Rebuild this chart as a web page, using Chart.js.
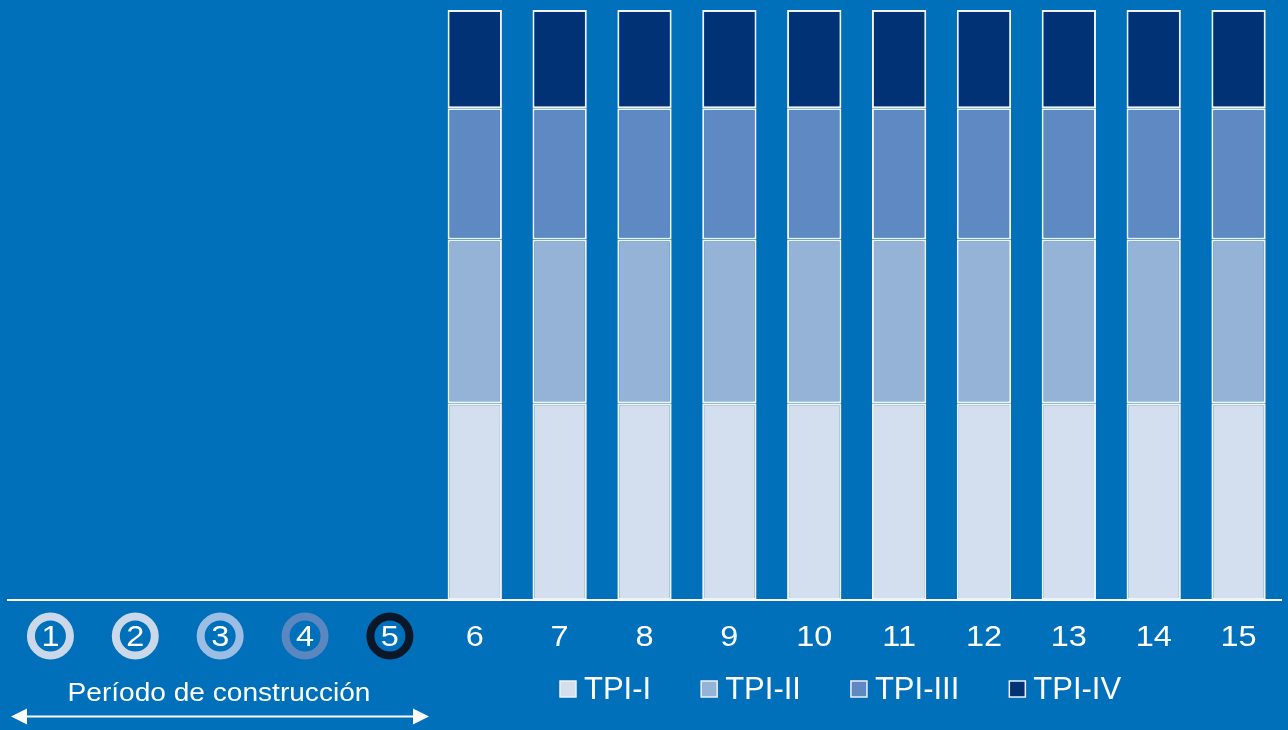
<!DOCTYPE html>
<html>
<head>
<meta charset="utf-8">
<script src="https://cdn.jsdelivr.net/npm/chart.js@4/dist/chart.umd.min.js"></script>
<style>
  html, body { margin: 0; padding: 0; background: #0070BA; }
  #wrap { width: 1288px; height: 730px; position: relative; }
</style>
</head>
<body>
<div id="wrap"><canvas id="chart" width="1288" height="730"></canvas></div>
<script>
// Years 1-5 are the construction period (no bars), 6-15 carry the tariff split
const categories = ['1','2','3','4','5','6','7','8','9','10','11','12','13','14','15'];
const tpiI   = [null, null, null, null, null, 30, 30, 30, 30, 30, 30, 30, 30, 30, 30];
const tpiII  = [null, null, null, null, null, 25, 25, 25, 25, 25, 25, 25, 25, 25, 25];
const tpiIII = [null, null, null, null, null, 20, 20, 20, 20, 20, 20, 20, 20, 20, 20];
const tpiIV  = [null, null, null, null, null, 15, 15, 15, 15, 15, 15, 15, 15, 15, 15];
const seriesNames = ['TPI-I', 'TPI-II', 'TPI-III', 'TPI-IV'];
const seriesColors = ['#D3DFEE', '#95B3D7', '#5E89C2', '#003275'];
// ring colour around the construction-year labels
const ringColors = ['#CAD8EA', '#CAD8EA', '#9DBEE4', '#5B87C0', '#0A1728'];
const buildLabel = 'Período de construcción';

const FONT = '"Liberation Sans", Arial, sans-serif';

// text drawn a little wider than the font's natural width
function wideText(ctx, text, x, y, sx) {
  ctx.save();
  ctx.translate(x, y);
  ctx.scale(sx, 1);
  ctx.fillText(text, 0, 0);
  ctx.restore();
}

// ── Year labels, rings round years 1-5, legend, construction arrow ───────────
const decorations = {
  id: 'decorations',
  afterDraw(chart) {
    const ctx = chart.ctx;
    const x = chart.scales.x;
    ctx.save();

    // rings
    ringColors.forEach((c, i) => {
      const cx = x.getPixelForValue(i);
      ctx.beginPath();
      ctx.arc(cx, 636, 19.5, 0, Math.PI * 2);
      ctx.lineWidth = 8;
      ctx.strokeStyle = c;
      ctx.stroke();
    });

    // year labels
    ctx.fillStyle = '#FFFFFF';
    ctx.font = '29px ' + FONT;
    ctx.textAlign = 'center';
    ctx.textBaseline = 'middle';
    categories.forEach((lab, i) => {
      wideText(ctx, lab, x.getPixelForValue(i), 638, 1.12);
    });

    // construction-period caption and double arrow
    ctx.font = '26px ' + FONT;
    wideText(ctx, buildLabel, 219, 694, 1.08);

    const ay = 716.5, x0 = 11, x1 = 429;
    ctx.strokeStyle = '#FFFFFF';
    ctx.lineWidth = 2;
    ctx.beginPath();
    ctx.moveTo(x0 + 10, ay);
    ctx.lineTo(x1 - 10, ay);
    ctx.stroke();
    ctx.beginPath();
    ctx.moveTo(x0, ay); ctx.lineTo(x0 + 16, ay - 8); ctx.lineTo(x0 + 16, ay + 8); ctx.closePath();
    ctx.moveTo(x1, ay); ctx.lineTo(x1 - 16, ay - 8); ctx.lineTo(x1 - 16, ay + 8); ctx.closePath();
    ctx.fill();

    // legend
    ctx.font = '31px ' + FONT;
    ctx.textAlign = 'left';
    let lx = 560;
    const ly = 689, box = 16;
    seriesNames.forEach((name, i) => {
      ctx.fillStyle = seriesColors[i];
      ctx.fillRect(lx, ly - box / 2, box, box);
      ctx.strokeStyle = '#F0F0F0';
      ctx.lineWidth = 1.5;
      ctx.strokeRect(lx, ly - box / 2, box, box);
      ctx.fillStyle = '#FFFFFF';
      ctx.fillText(name, lx + box + 8, ly + 1);
      lx += box + 8 + ctx.measureText(name).width + 50;
    });

    ctx.restore();
  }
};

const datasets = [tpiI, tpiII, tpiIII, tpiIV].map((data, i) => ({
  label: seriesNames[i],
  data,
  backgroundColor: seriesColors[i],
  borderColor: '#F2F2F2',
  borderWidth: 2,
  borderSkipped: false,
  barPercentage: 0.64,
  categoryPercentage: 1.0,
}));

new Chart(document.getElementById('chart'), {
  type: 'bar',
  data: { labels: categories, datasets },
  options: {
    responsive: false,
    animation: false,
    layout: { padding: { left: 8, right: 7, top: 10, bottom: 0 } },
    plugins: { legend: { display: false }, tooltip: { enabled: false } },
    scales: {
      x: {
        stacked: true,
        grid: { display: false, drawTicks: false },
        border: { display: true, color: '#FFFFFF', width: 2 },
        ticks: { display: false },
        afterFit(scale) { scale.height = 130; },
      },
      y: { stacked: true, display: false, min: 0, max: 90 },
    },
  },
  plugins: [decorations],
});
</script>
</body>
</html>
